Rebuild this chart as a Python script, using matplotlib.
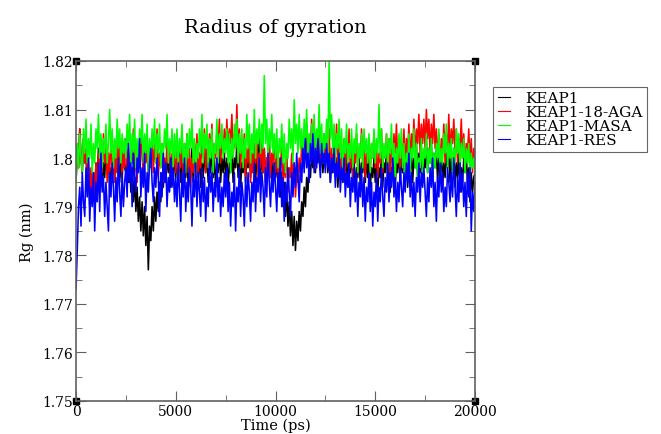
import numpy as np
import matplotlib
matplotlib.use("Agg")
import matplotlib.pyplot as plt
from matplotlib.ticker import MultipleLocator, FormatStrFormatter

plt.rcParams['font.family'] = ['DejaVu Serif']

# Rayon de giration (nm), un point tous les 62.5 ps de 0 a 20000 ps
rg_keap1 = [
    1.795, 1.802, 1.798, 1.806, 1.800, 1.797, 1.804, 1.799, 1.801, 1.794, 1.798, 1.790, 1.796, 1.791, 1.797, 1.793, 1.799, 1.795, 1.802, 1.797,
    1.800, 1.794, 1.799, 1.796, 1.802, 1.798, 1.801, 1.793, 1.798, 1.795, 1.800, 1.796, 1.803, 1.797, 1.801, 1.795, 1.799, 1.796, 1.802, 1.798,
    1.797, 1.801, 1.795, 1.799, 1.793, 1.798, 1.791, 1.796, 1.789, 1.794, 1.787, 1.792, 1.785, 1.791, 1.784, 1.790, 1.782, 1.788, 1.777, 1.786,
    1.783, 1.790, 1.785, 1.792, 1.787, 1.793, 1.789, 1.795, 1.791, 1.797, 1.794, 1.799, 1.795, 1.801, 1.797, 1.800, 1.794, 1.799, 1.796, 1.801,
    1.796, 1.800, 1.797, 1.802, 1.795, 1.800, 1.797, 1.803, 1.796, 1.801, 1.794, 1.799, 1.797, 1.802, 1.795, 1.800, 1.798, 1.803, 1.796, 1.801,
    1.794, 1.799, 1.796, 1.802, 1.797, 1.801, 1.795, 1.800, 1.797, 1.803, 1.796, 1.800, 1.794, 1.799, 1.797, 1.802, 1.795, 1.800, 1.797, 1.801,
    1.796, 1.800, 1.794, 1.799, 1.797, 1.802, 1.795, 1.800, 1.798, 1.803, 1.796, 1.801, 1.794, 1.799, 1.797, 1.802, 1.795, 1.800, 1.798, 1.803,
    1.796, 1.801, 1.797, 1.802, 1.795, 1.800, 1.798, 1.804, 1.796, 1.801, 1.797, 1.802, 1.795, 1.800, 1.798, 1.803, 1.796, 1.800, 1.794, 1.799,
    1.796, 1.800, 1.794, 1.798, 1.792, 1.797, 1.790, 1.795, 1.788, 1.793, 1.786, 1.791, 1.784, 1.789, 1.782, 1.788, 1.781, 1.787, 1.783, 1.789,
    1.785, 1.791, 1.788, 1.794, 1.790, 1.796, 1.793, 1.799, 1.796, 1.801, 1.798, 1.803, 1.797, 1.802, 1.799, 1.804, 1.798, 1.802, 1.797, 1.801,
    1.799, 1.803, 1.797, 1.801, 1.795, 1.800, 1.797, 1.802, 1.796, 1.800, 1.794, 1.799, 1.797, 1.802, 1.795, 1.800, 1.796, 1.801, 1.794, 1.799,
    1.797, 1.802, 1.795, 1.800, 1.793, 1.798, 1.796, 1.801, 1.794, 1.799, 1.797, 1.802, 1.795, 1.800, 1.796, 1.801, 1.794, 1.798, 1.796, 1.800,
    1.795, 1.800, 1.793, 1.798, 1.796, 1.801, 1.794, 1.799, 1.797, 1.802, 1.795, 1.800, 1.793, 1.798, 1.796, 1.801, 1.794, 1.799, 1.797, 1.802,
    1.795, 1.800, 1.797, 1.803, 1.796, 1.801, 1.794, 1.799, 1.797, 1.802, 1.795, 1.800, 1.798, 1.803, 1.796, 1.801, 1.797, 1.802, 1.795, 1.800,
    1.798, 1.804, 1.797, 1.802, 1.799, 1.803, 1.796, 1.801, 1.798, 1.802, 1.795, 1.800, 1.797, 1.802, 1.794, 1.799, 1.796, 1.801, 1.798, 1.803,
    1.795, 1.800, 1.797, 1.802, 1.794, 1.799, 1.796, 1.801, 1.793, 1.798, 1.795, 1.800, 1.797, 1.802, 1.794, 1.798, 1.791, 1.797, 1.793, 1.796,
    1.797,
]
rg_aga = [
    1.795, 1.803, 1.798, 1.806, 1.800, 1.797, 1.804, 1.799, 1.802, 1.794, 1.800, 1.792, 1.798, 1.793, 1.797, 1.791, 1.799, 1.794, 1.801, 1.796,
    1.803, 1.797, 1.805, 1.799, 1.802, 1.795, 1.801, 1.797, 1.804, 1.798, 1.800, 1.795, 1.802, 1.797, 1.805, 1.799, 1.803, 1.796, 1.801, 1.798,
    1.804, 1.798, 1.802, 1.796, 1.803, 1.799, 1.806, 1.797, 1.801, 1.795, 1.803, 1.798, 1.805, 1.800, 1.797, 1.804, 1.799, 1.802, 1.796, 1.801,
    1.798, 1.804, 1.797, 1.803, 1.799, 1.806, 1.796, 1.801, 1.798, 1.803, 1.795, 1.800, 1.797, 1.804, 1.799, 1.802, 1.796, 1.801, 1.798, 1.803,
    1.797, 1.802, 1.795, 1.800, 1.798, 1.804, 1.796, 1.801, 1.799, 1.805, 1.797, 1.802, 1.794, 1.800, 1.797, 1.803, 1.799, 1.805, 1.796, 1.801,
    1.798, 1.804, 1.800, 1.806, 1.797, 1.802, 1.799, 1.805, 1.801, 1.807, 1.798, 1.803, 1.800, 1.806, 1.802, 1.808, 1.799, 1.804, 1.801, 1.806,
    1.802, 1.808, 1.801, 1.806, 1.803, 1.809, 1.800, 1.805, 1.802, 1.811, 1.801, 1.806, 1.798, 1.804, 1.800, 1.805, 1.796, 1.802, 1.799, 1.804,
    1.795, 1.801, 1.797, 1.803, 1.799, 1.805, 1.796, 1.801, 1.798, 1.804, 1.797, 1.802, 1.795, 1.800, 1.798, 1.803, 1.796, 1.801, 1.799, 1.804,
    1.797, 1.802, 1.795, 1.800, 1.798, 1.803, 1.794, 1.799, 1.796, 1.802, 1.793, 1.798, 1.796, 1.801, 1.794, 1.799, 1.792, 1.797, 1.795, 1.800,
    1.797, 1.803, 1.799, 1.805, 1.801, 1.807, 1.799, 1.804, 1.802, 1.808, 1.800, 1.805, 1.798, 1.803, 1.801, 1.806, 1.799, 1.804, 1.800, 1.805,
    1.798, 1.803, 1.800, 1.806, 1.797, 1.802, 1.799, 1.805, 1.801, 1.807, 1.798, 1.803, 1.796, 1.801, 1.799, 1.804, 1.797, 1.802, 1.800, 1.806,
    1.798, 1.803, 1.796, 1.801, 1.799, 1.805, 1.797, 1.802, 1.800, 1.806, 1.798, 1.804, 1.796, 1.801, 1.799, 1.804, 1.797, 1.803, 1.800, 1.805,
    1.798, 1.803, 1.796, 1.801, 1.799, 1.806, 1.797, 1.802, 1.800, 1.805, 1.798, 1.804, 1.796, 1.802, 1.799, 1.805, 1.801, 1.807, 1.799, 1.804,
    1.797, 1.803, 1.800, 1.806, 1.798, 1.804, 1.801, 1.807, 1.799, 1.805, 1.802, 1.808, 1.800, 1.806, 1.803, 1.809, 1.801, 1.807, 1.803, 1.808,
    1.802, 1.810, 1.804, 1.808, 1.801, 1.807, 1.803, 1.809, 1.802, 1.806, 1.800, 1.805, 1.798, 1.804, 1.801, 1.807, 1.799, 1.805, 1.802, 1.809,
    1.800, 1.806, 1.803, 1.808, 1.801, 1.806, 1.799, 1.804, 1.802, 1.808, 1.800, 1.805, 1.798, 1.803, 1.801, 1.806, 1.799, 1.804, 1.797, 1.802,
    1.800,
]
rg_masa = [
    1.795, 1.803, 1.798, 1.805, 1.800, 1.797, 1.806, 1.801, 1.808, 1.799, 1.804, 1.800, 1.807, 1.797, 1.803, 1.799, 1.806, 1.802, 1.809, 1.800,
    1.805, 1.798, 1.804, 1.801, 1.807, 1.799, 1.803, 1.810, 1.801, 1.806, 1.798, 1.804, 1.800, 1.808, 1.802, 1.806, 1.799, 1.805, 1.801, 1.804,
    1.800, 1.807, 1.802, 1.809, 1.799, 1.805, 1.801, 1.808, 1.798, 1.804, 1.800, 1.806, 1.803, 1.809, 1.799, 1.805, 1.801, 1.807, 1.797, 1.804,
    1.800, 1.806, 1.802, 1.808, 1.799, 1.805, 1.801, 1.807, 1.798, 1.803, 1.800, 1.806, 1.802, 1.809, 1.799, 1.804, 1.801, 1.806, 1.798, 1.805,
    1.800, 1.806, 1.798, 1.804, 1.801, 1.807, 1.799, 1.803, 1.797, 1.805, 1.800, 1.806, 1.802, 1.808, 1.799, 1.804, 1.797, 1.803, 1.800, 1.806,
    1.801, 1.809, 1.799, 1.805, 1.802, 1.807, 1.798, 1.804, 1.800, 1.806, 1.797, 1.803, 1.801, 1.808, 1.799, 1.805, 1.802, 1.807, 1.800, 1.804,
    1.801, 1.806, 1.799, 1.805, 1.797, 1.804, 1.800, 1.807, 1.802, 1.808, 1.799, 1.805, 1.801, 1.806, 1.798, 1.804, 1.800, 1.809, 1.802, 1.807,
    1.799, 1.805, 1.801, 1.810, 1.800, 1.806, 1.803, 1.808, 1.801, 1.807, 1.802, 1.817, 1.803, 1.808, 1.800, 1.806, 1.802, 1.809, 1.801, 1.805,
    1.800, 1.806, 1.798, 1.804, 1.801, 1.807, 1.799, 1.805, 1.797, 1.803, 1.800, 1.808, 1.802, 1.806, 1.799, 1.812, 1.803, 1.807, 1.801, 1.809,
    1.802, 1.806, 1.800, 1.808, 1.803, 1.810, 1.801, 1.805, 1.799, 1.807, 1.802, 1.809, 1.800, 1.806, 1.803, 1.811, 1.801, 1.807, 1.799, 1.805,
    1.802, 1.808, 1.800, 1.820, 1.804, 1.809, 1.801, 1.807, 1.799, 1.805, 1.802, 1.808, 1.800, 1.806, 1.797, 1.804, 1.801, 1.807, 1.799, 1.803,
    1.800, 1.806, 1.798, 1.804, 1.801, 1.807, 1.797, 1.803, 1.800, 1.805, 1.798, 1.806, 1.801, 1.804, 1.799, 1.805, 1.797, 1.803, 1.800, 1.806,
    1.799, 1.804, 1.801, 1.811, 1.800, 1.806, 1.798, 1.803, 1.800, 1.805, 1.797, 1.804, 1.801, 1.807, 1.799, 1.803, 1.796, 1.802, 1.799, 1.805,
    1.800, 1.806, 1.798, 1.803, 1.796, 1.801, 1.799, 1.805, 1.797, 1.802, 1.800, 1.806, 1.798, 1.803, 1.796, 1.800, 1.798, 1.804, 1.797, 1.802,
    1.800, 1.805, 1.797, 1.802, 1.799, 1.804, 1.796, 1.801, 1.798, 1.803, 1.800, 1.806, 1.797, 1.802, 1.799, 1.805, 1.801, 1.807, 1.798, 1.803,
    1.800, 1.804, 1.797, 1.802, 1.799, 1.806, 1.801, 1.805, 1.798, 1.803, 1.800, 1.804, 1.797, 1.802, 1.799, 1.803, 1.796, 1.801, 1.798, 1.800,
    1.797,
]
rg_res = [
    1.773, 1.781, 1.790, 1.794, 1.786, 1.797, 1.791, 1.788, 1.798, 1.792, 1.800, 1.787, 1.794, 1.790, 1.797, 1.785, 1.795, 1.791, 1.799, 1.789,
    1.801, 1.793, 1.796, 1.788, 1.795, 1.790, 1.785, 1.797, 1.792, 1.799, 1.794, 1.787, 1.796, 1.791, 1.800, 1.793, 1.788, 1.797, 1.790, 1.795,
    1.798, 1.792, 1.803, 1.795, 1.799, 1.790, 1.801, 1.796, 1.793, 1.800, 1.797, 1.804, 1.792, 1.798, 1.794, 1.801, 1.789, 1.797, 1.793, 1.799,
    1.802, 1.795, 1.791, 1.798, 1.794, 1.800, 1.796, 1.788, 1.797, 1.792, 1.801, 1.795, 1.799, 1.790, 1.796, 1.793, 1.800, 1.794, 1.798, 1.791,
    1.796, 1.790, 1.799, 1.793, 1.787, 1.797, 1.792, 1.800, 1.789, 1.795, 1.791, 1.798, 1.794, 1.786, 1.796, 1.792, 1.799, 1.790, 1.797, 1.793,
    1.788, 1.798, 1.791, 1.796, 1.787, 1.794, 1.790, 1.799, 1.793, 1.797, 1.789, 1.795, 1.792, 1.800, 1.791, 1.796, 1.788, 1.794, 1.790, 1.797,
    1.792, 1.798, 1.789, 1.795, 1.786, 1.793, 1.790, 1.797, 1.785, 1.794, 1.791, 1.798, 1.788, 1.795, 1.792, 1.786, 1.796, 1.790, 1.797, 1.793,
    1.787, 1.795, 1.791, 1.799, 1.789, 1.796, 1.793, 1.800, 1.791, 1.797, 1.794, 1.788, 1.798, 1.792, 1.801, 1.795, 1.790, 1.797, 1.793, 1.799,
    1.794, 1.789, 1.797, 1.792, 1.800, 1.790, 1.796, 1.787, 1.795, 1.791, 1.798, 1.793, 1.788, 1.797, 1.792, 1.799, 1.794, 1.801, 1.796, 1.791,
    1.799, 1.795, 1.802, 1.797, 1.804, 1.798, 1.801, 1.795, 1.803, 1.799, 1.805, 1.797, 1.802, 1.798, 1.804, 1.800, 1.796, 1.803, 1.799, 1.801,
    1.797, 1.803, 1.798, 1.801, 1.795, 1.800, 1.797, 1.802, 1.794, 1.799, 1.796, 1.801, 1.793, 1.798, 1.795, 1.800, 1.792, 1.797, 1.794, 1.799,
    1.790, 1.796, 1.793, 1.798, 1.791, 1.797, 1.788, 1.795, 1.792, 1.798, 1.790, 1.796, 1.787, 1.794, 1.791, 1.797, 1.789, 1.795, 1.786, 1.793,
    1.790, 1.797, 1.787, 1.794, 1.791, 1.798, 1.792, 1.788, 1.796, 1.793, 1.799, 1.791, 1.797, 1.794, 1.800, 1.792, 1.796, 1.789, 1.795, 1.791,
    1.798, 1.794, 1.790, 1.797, 1.793, 1.799, 1.795, 1.801, 1.792, 1.797, 1.790, 1.795, 1.788, 1.796, 1.793, 1.799, 1.791, 1.797, 1.794, 1.798,
    1.793, 1.788, 1.796, 1.791, 1.798, 1.794, 1.800, 1.790, 1.795, 1.787, 1.796, 1.792, 1.799, 1.793, 1.797, 1.789, 1.794, 1.790, 1.798, 1.795,
    1.791, 1.797, 1.792, 1.800, 1.794, 1.788, 1.796, 1.791, 1.799, 1.793, 1.797, 1.790, 1.795, 1.788, 1.797, 1.792, 1.798, 1.785, 1.793, 1.789,
    1.795,
]

labels = ['KEAP1', 'KEAP1-18-AGA', 'KEAP1-MASA', 'KEAP1-RES']
colors = ['#000000', '#ff0000', '#00ff00', '#0000ff']

fig = plt.figure(figsize=(6.61, 4.35), dpi=100)
ax = fig.add_axes([0.115, 0.076, 0.6036, 0.7816])

for serie, lab, col in zip([rg_keap1, rg_aga, rg_masa, rg_res], labels, colors):
    time_ps = np.linspace(0, 20000, len(serie))
    ax.plot(time_ps, serie, color=col, lw=1.15, label=lab)

ax.set_xlim(0, 20000)
ax.set_ylim(1.75, 1.82)
ax.xaxis.set_major_locator(MultipleLocator(5000))
ax.xaxis.set_minor_locator(MultipleLocator(2500))
ax.yaxis.set_major_locator(MultipleLocator(0.01))
ax.yaxis.set_minor_locator(MultipleLocator(0.005))
ax.yaxis.set_major_formatter(FormatStrFormatter('%g'))
ax.tick_params(which='both', direction='in', top=True, right=True, color='#606060', labelsize=10, pad=2)
ax.tick_params(which='major', length=7)
ax.tick_params(which='minor', length=4)
for sp in ax.spines.values():
    sp.set_color('#606060')
    sp.set_linewidth(1.2)

# petits carres noirs aux coins du cadre
ax.plot([0, 1, 0, 1], [0, 0, 1, 1], 's', color='black', ms=4, transform=ax.transAxes, clip_on=False)

ax.set_xlabel('Time (ps)', fontsize=10.5, labelpad=0)
ax.set_ylabel('Rg (nm)', fontsize=10.5, labelpad=6)
ax.set_title('Radius of gyration', fontsize=14, pad=21)

leg = fig.legend(loc='upper left', bbox_to_anchor=(0.746, 0.798), borderaxespad=0, fontsize=11, frameon=True,
                 fancybox=False, handlelength=0.8, handletextpad=1.0, borderpad=0.3, labelspacing=0.0)
leg.get_frame().set_edgecolor('#404040')
leg.get_frame().set_linewidth(0.8)
for h in leg.get_lines():
    h.set_linewidth(0.8)

fig.savefig('out.png', dpi=100)
